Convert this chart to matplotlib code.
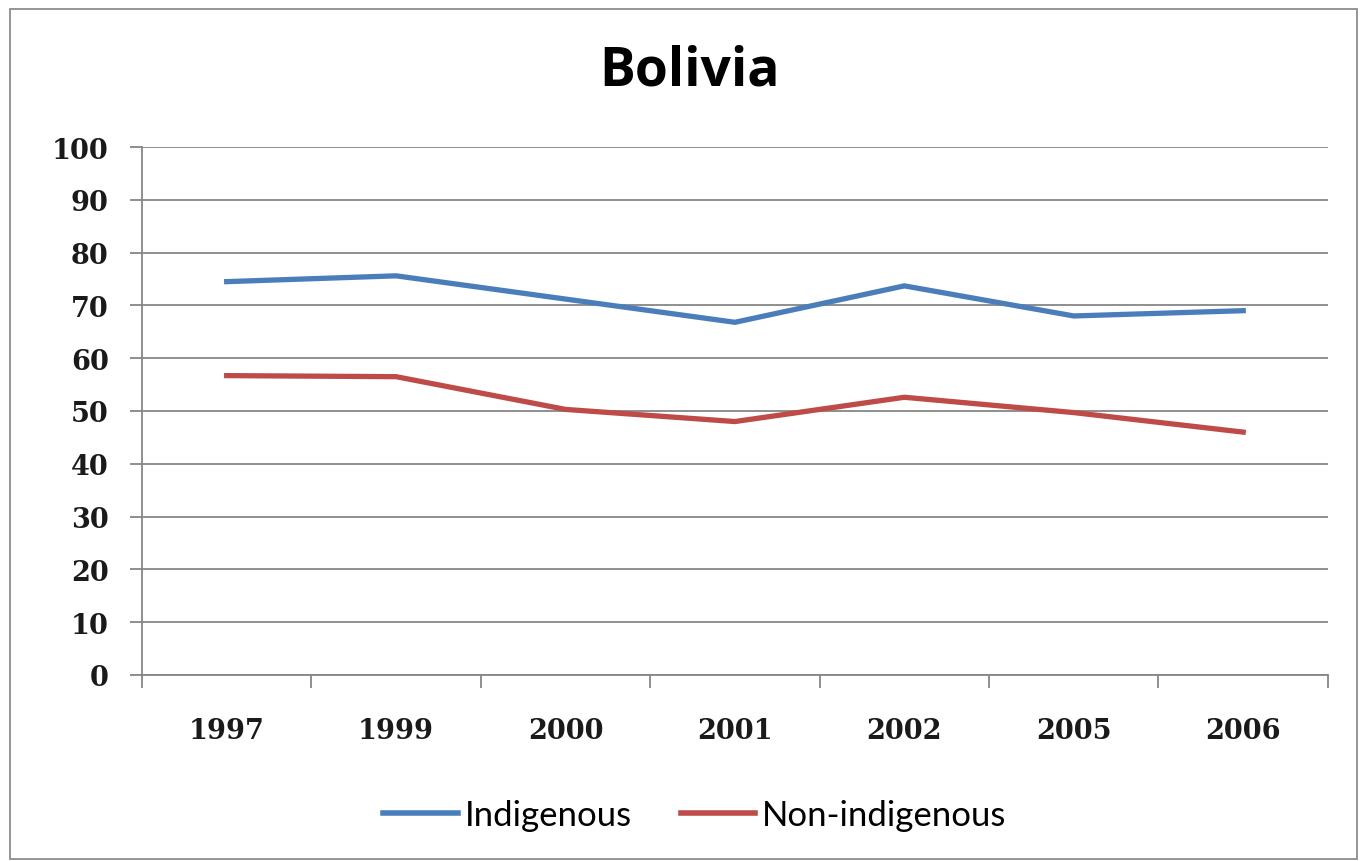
import matplotlib.pyplot as plt
from matplotlib.patches import Rectangle
import numpy as np

# share of population (percent), Bolivia
years = ["1997", "1999", "2000", "2001", "2002", "2005", "2006"]
indigenous = [74.5, 75.6, 71.2, 66.8, 73.7, 68.0, 69.0]
non_indigenous = [56.7, 56.5, 50.3, 48.0, 52.6, 49.7, 46.0]

blue = "#4A7EBB"
red = "#BE4B48"
grey = "#868686"

fig = plt.figure(figsize=(13.6, 8.62), dpi=100)
ax = fig.add_axes([0.1044, 0.2158, 0.872, 0.6125])

x = np.arange(len(years))
ax.plot(x, indigenous, color=blue, lw=3.8, label="Indigenous", solid_joinstyle="miter")
ax.plot(x, non_indigenous, color=red, lw=3.8, label="Non-indigenous", solid_joinstyle="miter")

ax.set_xlim(-0.5, len(years) - 0.5)
ax.set_ylim(0, 100)
ax.set_yticks(range(0, 101, 10))
ax.set_xticks(x)
ax.set_xticklabels(years)
ax.set_xticks(np.arange(-0.5, len(years)), minor=True)

for lab in ax.get_yticklabels() + ax.get_xticklabels():
    lab.set_family("DejaVu Serif")
    lab.set_fontweight("bold")
    lab.set_fontsize(19.5)
    lab.set_color("#1a1a1a")

ax.tick_params(axis="y", direction="out", length=9, width=1.3, color=grey, pad=15)
ax.tick_params(axis="x", which="major", length=0, pad=30)
ax.tick_params(axis="x", which="minor", direction="out", length=9, width=1.3, color=grey)

ax.yaxis.grid(True, color=grey, lw=1.3)
ax.set_axisbelow(True)
for side in ["top", "right"]:
    ax.spines[side].set_visible(False)
for side in ["left", "bottom"]:
    ax.spines[side].set_color(grey)
    ax.spines[side].set_linewidth(1.3)

fig.text(0.507, 0.917, "Bolivia", ha="center", va="center",
         fontsize=38.5, fontweight="bold", family="Open Sans")

leg = fig.legend(loc="center", bbox_to_anchor=(0.511, 0.053), ncol=2, frameon=False,
                 prop={"family": "Lato", "size": 25}, handlelength=2.15,
                 handletextpad=0.2, columnspacing=1.4)
for line in leg.get_lines():
    line.set_linewidth(4)

# outer chart border
fig.patches.append(Rectangle((0.0075, 0.002), 0.9905, 0.986, transform=fig.transFigure,
                             fill=False, edgecolor="#8c8c8c", lw=1.3))

fig.savefig("out.png", dpi=100)
